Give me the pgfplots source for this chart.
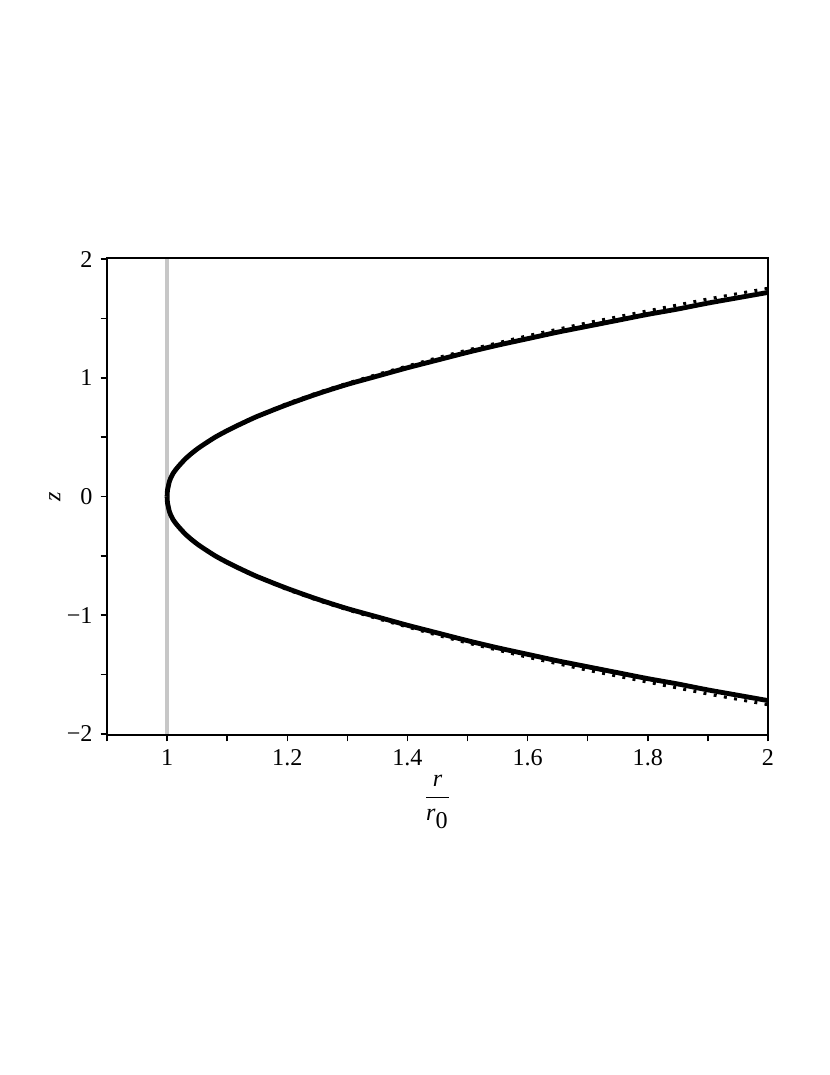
\documentclass[border=0pt]{standalone}
\usepackage{fontspec}
\setmainfont{Liberation Serif}
\usepackage{pgfplots}
\pgfplotsset{compat=1.18}
\usepackage{pgfplotstable}

% upper half of the curves: r/r0, solid z, dotted z
\pgfplotstableread{
r      zs     zd
1.0    0      0
1.0005 0.045  0.045
1.001  0.065  0.065
1.002  0.085  0.085
1.0035 0.12   0.12
1.006  0.155  0.155
1.01   0.195  0.195
1.015  0.23   0.23
1.02   0.26   0.26
1.03   0.315  0.315
1.04   0.36   0.36
1.05   0.40   0.40
1.06   0.435  0.435
1.08   0.50   0.50
1.10   0.555  0.56
1.12   0.605  0.61
1.15   0.675  0.68
1.20   0.775  0.785
1.25   0.865  0.875
1.30   0.945  0.955
1.35   1.015  1.03
1.40   1.085  1.10
1.45   1.15   1.17
1.50   1.215  1.235
1.55   1.275  1.295
1.60   1.33   1.355
1.65   1.385  1.41
1.70   1.435  1.465
1.75   1.485  1.515
1.80   1.535  1.565
1.85   1.58   1.615
1.90   1.63   1.665
1.95   1.675  1.71
2.00   1.72   1.755
}\curves

\begin{document}
\begin{tikzpicture}
\path[use as bounding box] (-1.6371cm,-5.202cm) rectangle (11.0619cm,11.2455cm);
\begin{axis}[
  scale only axis, width=10.1133cm, height=7.2981cm,
  xmin=0.9, xmax=2, ymin=-2.01, ymax=2.01,
  xtick={1,1.2,1.4,1.6,1.8,2}, xticklabels={1,1.2,1.4,1.6,1.8,2},
  minor xtick={0.9,1.1,1.3,1.5,1.7,1.9},
  ytick={-2,-1,0,1,2}, yticklabels={−2,−1,0,1,2},
  minor ytick={-1.5,-0.5,0.5,1.5},
  tick align=outside, xtick pos=bottom, ytick pos=left,
  major tick length=2.8pt, minor tick length=2.8pt,
  tick style={black, line width=0.6pt},
  axis line style={line width=0.7pt},
  ticklabel style={font=\fontsize{10.5}{12}\selectfont},
  xlabel={$\displaystyle\frac{\textit{r}}{\textit{r}_{\textrm{0}}}$},
  xlabel style={at={(axis description cs:0.5,0)}, anchor=center, yshift=-1.02cm, font=\fontsize{10.5}{12}\selectfont},
  ylabel={\textit{z}},
  ylabel style={at={(axis description cs:-0.079,0.5)}, anchor=center, font=\fontsize{10.5}{12}\selectfont},
]
\addplot[color=black!22, line width=1.4pt] coordinates {(1,-2) (1,2)};
\addplot[black, line width=2.1pt, line join=round, smooth, tension=0.4] table[x=r, y=zs] {\curves};
\addplot[black, line width=2.1pt, line join=round, smooth, tension=0.4] table[x=r, y expr=-\thisrow{zs}] {\curves};
\addplot[black, line width=1.3pt, dash pattern=on 1.3pt off 3.2pt] table[x=r, y=zd] {\curves};
\addplot[black, line width=1.3pt, dash pattern=on 1.3pt off 3.2pt] table[x=r, y expr=-\thisrow{zd}] {\curves};
\end{axis}
\end{tikzpicture}
\end{document}
